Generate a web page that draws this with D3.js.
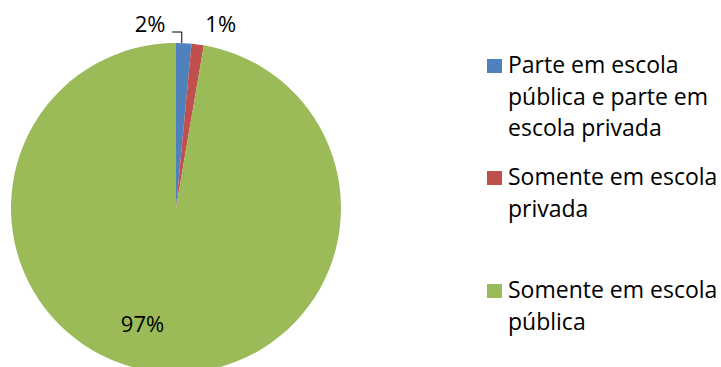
<!DOCTYPE html>
<html>
<head>
<meta charset="utf-8">
<script src="https://cdn.jsdelivr.net/npm/d3@7"></script>
<style>
  html, body { margin: 0; padding: 0; background: #fff; }
  svg { display: block; }
  text { font-family: "Open Sans", Lato, sans-serif; fill: #000; }
</style>
</head>
<body>
<svg id="chart" width="721" height="367"></svg>
<script>
// Tipo de escola frequentada (%)
const categories = [
  "Parte em escola pública e parte em escola privada",
  "Somente em escola privada",
  "Somente em escola pública"
];
const values = [1.5, 1.2, 97.3];
const colors = ["#4F81BD", "#C0504D", "#9BBB59"];

const width = 721, height = 367;
const cx = 176, cy = 208, radius = 165;

const svg = d3.select("#chart");
const data = categories.map((c, i) => ({ name: c, value: values[i], color: colors[i] }));

const pie = d3.pie().value(d => d.value).sort(null);
const arcs = pie(data);
const arc = d3.arc().innerRadius(0).outerRadius(radius);

const g = svg.append("g").attr("transform", `translate(${cx},${cy})`);
g.selectAll("path.slice")
  .data(arcs)
  .join("path")
  .attr("class", "slice")
  .attr("d", arc)
  .attr("fill", d => d.data.color);

const pct = v => Math.round(v) + "%";
const mid = d => (d.startAngle + d.endAngle) / 2;
const labelSize = 22;

// small slices: labels above the rim
const topY = -radius - 11;
// first slice: label to the left with an elbow leader
{
  const d = arcs[0];
  const ax = radius * Math.sin(mid(d)) - 2;
  g.append("text")
    .attr("x", -26).attr("y", topY)
    .attr("text-anchor", "middle")
    .attr("font-size", labelSize)
    .text(pct(d.data.value));
  g.append("path")
    .attr("d", `M${-4},${topY} H${ax} V${-radius}`)
    .attr("fill", "none")
    .attr("stroke", "#000")
    .attr("stroke-width", 1);
}
// second slice
{
  const d = arcs[1];
  g.append("text")
    .attr("x", radius * Math.sin(mid(d)) + 23).attr("y", topY)
    .attr("text-anchor", "middle")
    .attr("font-size", labelSize)
    .text(pct(d.data.value));
}
// large slice: inside near the bottom
{
  const d = arcs[2];
  const rr = 124;
  g.append("text")
    .attr("x", rr * Math.sin(mid(d)) - 23)
    .attr("y", -rr * Math.cos(mid(d)))
    .attr("text-anchor", "middle")
    .attr("font-size", labelSize)
    .text(pct(d.data.value));
}

// legend
const legendX = 487, textX = 508, maxW = 214, lineH = 31.5, fontSize = 23;
const legendTops = [73, 185, 298];   // first-line baselines
const legend = svg.append("g");

function wrap(str) {
  const tmp = legend.append("text").attr("font-size", fontSize);
  const words = str.split(" ");
  const lines = [];
  let cur = "";
  for (const w of words) {
    const test = cur ? cur + " " + w : w;
    tmp.text(test);
    if (tmp.node().getComputedTextLength() > maxW && cur) {
      lines.push(cur);
      cur = w;
    } else cur = test;
  }
  if (cur) lines.push(cur);
  tmp.remove();
  return lines;
}

data.forEach((d, i) => {
  const base = legendTops[i];
  legend.append("rect")
    .attr("x", legendX).attr("y", base - 14)
    .attr("width", 15).attr("height", 14)
    .attr("fill", d.color);
  const t = legend.append("text")
    .attr("x", textX).attr("y", base)
    .attr("font-size", fontSize);
  wrap(d.name).forEach((ln, j) => {
    t.append("tspan").attr("x", textX).attr("y", base + j * lineH).text(ln);
  });
});
</script>
</body>
</html>
